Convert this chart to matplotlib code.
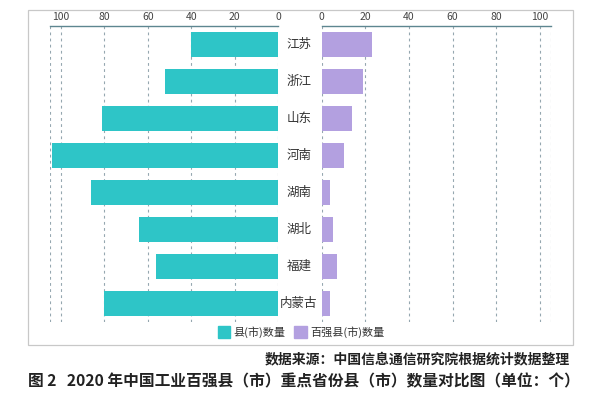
import matplotlib
matplotlib.use("Agg")
import matplotlib.pyplot as plt
from matplotlib.patches import Patch, Rectangle

plt.rcParams['font.family'] = ['Noto Sans CJK SC', 'DejaVu Sans']

provinces = ['江苏', '浙江', '山东', '河南', '湖南', '湖北', '福建', '内蒙古']
county_counts = [40, 52, 81, 104, 86, 64, 56, 80]
top100_counts = [23, 19, 14, 10, 4, 5, 7, 4]
ticks = [0, 20, 40, 60, 80, 100]
series_names = ['县(市)数量', '百强县(市)数量']
source_text = '数据来源：中国信息通信研究院根据统计数据整理'
caption_text = '图 2   2020 年中国工业百强县（市）重点省份县（市）数量对比图（单位：个）'

teal = '#2ec5c7'
purple = '#b3a0e0'
grid_c = '#95a7b0'
spine_c = '#5d8690'
xmax = 105

fig = plt.figure(figsize=(6, 4), dpi=100)
axL = fig.add_axes([50/600, 1-322/400, 228/600, 296/400])
axR = fig.add_axes([321.7/600, 1-322/400, 229/600, 296/400])

y = list(range(len(provinces)))
axL.barh(y, county_counts, height=0.66, color=teal, zorder=3)
axR.barh(y, top100_counts, height=0.66, color=purple, zorder=3)

for ax in (axL, axR):
    ax.set_ylim(len(provinces) - 0.5, -0.5)
    ax.set_xlim(0, xmax)
    ax.set_xticks(ticks)
    ax.xaxis.tick_top()
    ax.tick_params(axis='x', length=0, pad=3, labelsize=7.5, labelcolor='#444444')
    ax.set_yticks([])
    for s in ('left', 'right', 'bottom'):
        ax.spines[s].set_visible(False)
    ax.spines['top'].set_color(spine_c)
    ax.spines['top'].set_linewidth(1.0)
    for v in ticks + [xmax]:
        ax.axvline(v, color=grid_c, lw=0.8, ls=(0, (2.5, 3)), zorder=1)
    ax.set_facecolor('none')
axL.invert_xaxis()

for i, p in enumerate(provinces):
    fig.text(299/600, 1 - (26 + 37 * (i + 0.5)) / 400, p, ha='center', va='center',
             fontsize=9, color='#333333')

handles = [Patch(facecolor=teal, edgecolor=teal), Patch(facecolor=purple, edgecolor=purple)]
fig.legend(handles, series_names, loc='center', bbox_to_anchor=(301/600, 1 - 332/400),
           ncol=2, frameon=False, fontsize=8, handlelength=1.1, handleheight=1.3,
           handletextpad=0.3, columnspacing=0.8, labelcolor='#333333')

fig.add_artist(Rectangle((28/600, 1 - 345/400), (573 - 28)/600, (345 - 10)/400,
                         transform=fig.transFigure, fill=False, edgecolor='#c8c8c8', lw=0.9))

fig.text(570/600, 1 - 359/400, source_text, ha='right', va='center', fontsize=10,
         color='#222222', fontweight='bold')
fig.text(28/600, 1 - 381/400, caption_text, ha='left', va='center', fontsize=11.3,
         color='#222222', fontweight='semibold')

fig.savefig('out.png', dpi=100)
